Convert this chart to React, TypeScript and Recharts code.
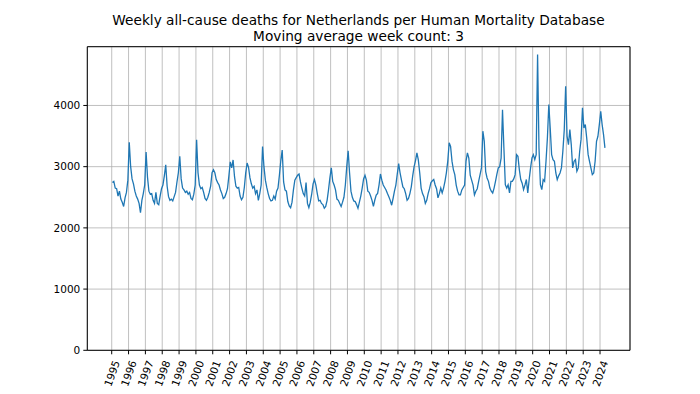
import React from "react";
import {
  LineChart,
  Line,
  XAxis,
  YAxis,
  CartesianGrid,
  ReferenceLine,
} from "recharts";

// Monthly readings of the 3-week moving average, Jan..Dec
const d1995 = [2740, 2760, 2650, 2640, 2520, 2600, 2470, 2420, 2350, 2490, 2580, 2780];
const d1996 = [3400, 3000, 2800, 2720, 2600, 2520, 2470, 2400, 2250, 2450, 2560, 2700];
const d1997 = [3240, 2830, 2600, 2550, 2560, 2450, 2400, 2580, 2400, 2380, 2520, 2640];
const d1998 = [2700, 2850, 3030, 2680, 2510, 2450, 2470, 2440, 2510, 2580, 2750, 2900];
const d1999 = [3170, 2800, 2650, 2620, 2580, 2600, 2550, 2580, 2480, 2460, 2550, 2700];
const d2000 = [3440, 2900, 2700, 2640, 2660, 2580, 2480, 2450, 2500, 2580, 2680, 2900];
const d2001 = [2950, 2900, 2790, 2740, 2700, 2620, 2560, 2480, 2500, 2560, 2640, 2850];
const d2002 = [3080, 2980, 3110, 2840, 2680, 2650, 2660, 2520, 2460, 2500, 2660, 2900];
const d2003 = [3060, 2990, 2820, 2720, 2650, 2680, 2560, 2620, 2450, 2560, 2700, 3330];
const d2004 = [3000, 2780, 2660, 2560, 2480, 2440, 2450, 2520, 2470, 2600, 2650, 2860];
const d2005 = [3100, 3270, 2750, 2620, 2600, 2430, 2360, 2330, 2420, 2620, 2780, 2820];
const d2006 = [2860, 2880, 2750, 2650, 2560, 2520, 2740, 2400, 2330, 2420, 2550, 2720];
const d2007 = [2790, 2700, 2560, 2440, 2450, 2400, 2380, 2320, 2350, 2450, 2620, 2820];
const d2008 = [2980, 2760, 2700, 2620, 2470, 2450, 2400, 2350, 2420, 2500, 2700, 3000];
const d2009 = [3260, 2900, 2600, 2500, 2440, 2430, 2380, 2320, 2420, 2520, 2650, 2800];
const d2010 = [2860, 2780, 2600, 2580, 2520, 2450, 2350, 2455, 2536, 2564, 2700, 2880];
const d2011 = [2780, 2700, 2660, 2620, 2560, 2510, 2450, 2370, 2480, 2600, 2700, 2880];
const d2012 = [3050, 2900, 2780, 2670, 2640, 2560, 2450, 2480, 2560, 2670, 2850, 3000];
const d2013 = [3100, 3225, 3110, 2900, 2650, 2560, 2510, 2400, 2450, 2560, 2640, 2740];
const d2014 = [2770, 2790, 2700, 2640, 2490, 2560, 2650, 2570, 2650, 2760, 2900, 3090];
const d2015 = [3390, 3330, 3090, 2950, 2870, 2700, 2600, 2540, 2540, 2620, 2660, 2700];
const d2016 = [3090, 3225, 3140, 2860, 2780, 2700, 2540, 2600, 2640, 2760, 2870, 2980];
const d2017 = [3580, 3415, 2920, 2815, 2760, 2650, 2600, 2570, 2650, 2760, 2880, 2980];
const d2018 = [3000, 3140, 3930, 3300, 2705, 2650, 2705, 2570, 2760, 2760, 2800, 2870];
const d2019 = [3196, 3170, 2950, 2790, 2730, 2624, 2700, 2790, 2570, 2790, 2980, 3142];
const d2020 = [3197, 3115, 3197, 4833, 3300, 2706, 2624, 2788, 2760, 3088, 3470, 4015];
const d2021 = [3633, 3197, 3115, 3088, 2897, 2788, 2850, 2897, 2980, 3250, 3600, 4315];
const d2022 = [3500, 3361, 3606, 3361, 2980, 3088, 3115, 2925, 2980, 3252, 3450, 3961];
const d2023 = [3633, 3688, 3470, 3200, 3088, 2980, 2870, 2897, 3088, 3415, 3497, 3688];
const d2024 = [3906, 3688, 3524, 3306];

const YEARS = [
  1995, 1996, 1997, 1998, 1999, 2000, 2001, 2002, 2003, 2004, 2005, 2006,
  2007, 2008, 2009, 2010, 2011, 2012, 2013, 2014, 2015, 2016, 2017, 2018,
  2019, 2020, 2021, 2022, 2023, 2024,
];
const SERIES = [
  d1995, d1996, d1997, d1998, d1999, d2000, d2001, d2002, d2003, d2004,
  d2005, d2006, d2007, d2008, d2009, d2010, d2011, d2012, d2013, d2014,
  d2015, d2016, d2017, d2018, d2019, d2020, d2021, d2022, d2023, d2024,
];
const Y_TICKS = [0, 1000, 2000, 3000, 4000];

const X_MIN = 1993.55;
const X_MAX = 2025.78;
const Y_MAX = 4960;

const data = YEARS.flatMap((yr, k) =>
  SERIES[k].map((v, i) => ({ t: yr + (i + 0.5) / 12, deaths: v }))
);

const FONT = "'DejaVu Sans', sans-serif";

const YearTick = (props: any) => {
  const { x, y, payload } = props;
  const cy = y + 17;
  return (
    <text
      x={x}
      y={cy}
      transform={`rotate(-70, ${x}, ${cy})`}
      textAnchor="middle"
      dominantBaseline="central"
      fontSize={10.5}
      fontFamily={FONT}
      fill="#000"
    >
      {payload.value}
    </text>
  );
};

export default function App() {
  return (
    <div
      style={{
        position: "absolute",
        left: 0,
        top: 0,
        width: 700,
        height: 394,
        background: "#fff",
        fontFamily: FONT,
      }}
    >
      <div
        style={{
          position: "absolute",
          left: 0,
          width: 717,
          top: 11.8,
          textAlign: "center",
          fontSize: 13.7,
          lineHeight: "16.4px",
          color: "#000",
        }}
      >
        <div>Weekly all-cause deaths for Netherlands per Human Mortality Database</div>
        <div>Moving average week count: 3</div>
      </div>
      <LineChart
        width={700}
        height={394}
        data={data}
        margin={{ top: 46.7, right: 70, bottom: 0, left: 0 }}
      >
        <CartesianGrid stroke="#b0b0b0" strokeWidth={0.8} />
        <XAxis
          dataKey="t"
          type="number"
          domain={[X_MIN, X_MAX]}
          ticks={YEARS}
          interval={0}
          allowDataOverflow
          height={43.7}
          tickSize={4}
          tickMargin={2}
          stroke="#000"
          tick={<YearTick />}
        />
        <YAxis
          type="number"
          domain={[0, Y_MAX]}
          ticks={Y_TICKS}
          allowDataOverflow
          width={87.3}
          tickSize={4}
          tickMargin={3}
          stroke="#000"
          tick={{ fill: "#000", fontSize: 10.5, fontFamily: FONT }}
        />
        <ReferenceLine y={Y_MAX} stroke="#000" />
        <ReferenceLine x={X_MAX} stroke="#000" />
        <Line
          type="linear"
          dataKey="deaths"
          stroke="#1f77b4"
          strokeWidth={1.3}
          dot={false}
          isAnimationActive={false}
        />
      </LineChart>
    </div>
  );
}
